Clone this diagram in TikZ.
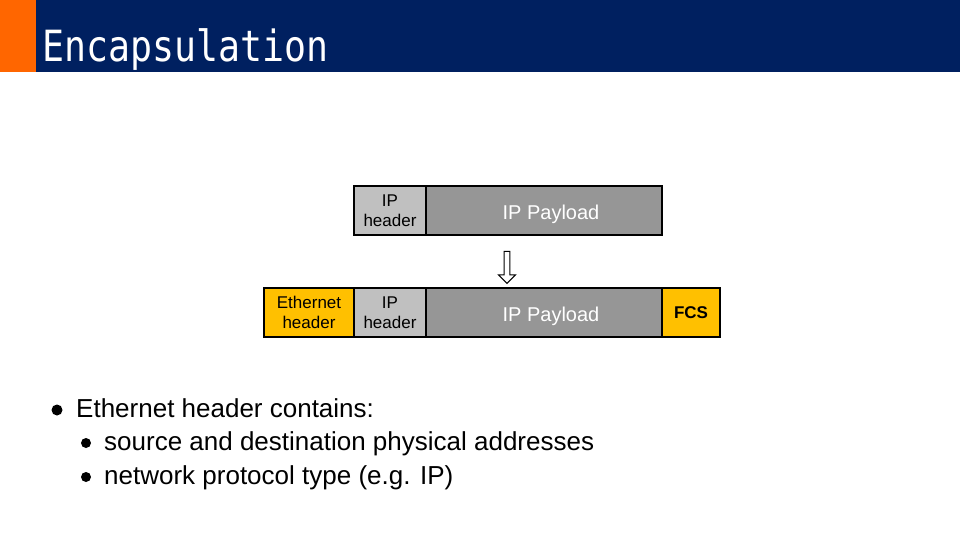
\documentclass[tikz,border=0pt]{standalone}
\usepackage{fontspec}
\setmainfont{Liberation Sans}
\newfontfamily\titlefont{DejaVu Sans Mono}
\usetikzlibrary{shapes.arrows}
\definecolor{barblue}{HTML}{002060}
\definecolor{barorange}{HTML}{FF6600}
\definecolor{hdrgray}{HTML}{C0C0C0}
\definecolor{loadgray}{HTML}{969696}
\definecolor{ethgold}{HTML}{FFC000}
\newcommand{\loadtext}{\hspace*{14pt}\raisebox{-4pt}[14pt][4pt]{IP Payload}}
\tikzset{
  field/.style={draw, line width=1.5pt, inner sep=0pt, minimum height=49pt, align=center},
  iphdr/.style={field, fill=hdrgray, minimum width=72pt, font=\fontsize{17}{20}\selectfont},
  ipload/.style={field, fill=loadgray, minimum width=236pt, text=white, font=\fontsize{20}{22}\selectfont},
  ethfld/.style={field, fill=ethgold, font=\fontsize{17}{20}\selectfont},
  dot/.style={circle, fill=black, inner sep=0pt, minimum size=#1},
  item/.style={anchor=base west, inner sep=0pt, font=\fontsize{26}{28}\selectfont}
}
\begin{document}
\begin{tikzpicture}[x=1pt, y=-1pt]
\useasboundingbox (0,0) rectangle (960,540);
\fill[barblue] (36,0) rectangle (960,72);
\fill[barorange] (0,0) rectangle (36,72);
\node[anchor=base west, inner sep=0pt, text=white, xscale=0.85, transform shape, font=\titlefont\fontsize{43}{46}\selectfont] (title) at (42,62) {Encapsulation};

% IP packet
\node[iphdr] (iph) at (390,210.5) {IP\\header};
\node[ipload] (ipl) at (544,210.5) {\loadtext};

% down arrow
\node[single arrow, draw, fill=white, line width=1pt, rotate=-90, minimum height=32pt, minimum width=17pt, single arrow head extend=5pt, single arrow tip angle=90, inner sep=2pt] (down) at (507,266) {};

% Ethernet frame
\node[ethfld, minimum width=90pt] (ethh) at (309,312.5) {Ethernet\\header};
\node[iphdr] (iph2) at (390,312.5) {IP\\header};
\node[ipload] (ipl2) at (544,312.5) {\loadtext};
\node[ethfld, minimum width=58pt, font=\bfseries\fontsize{17}{20}\selectfont] (fcs) at (691,312.5) {FCS};

% bullets
\node[dot=11pt] (b1) at (57,410) {};
\node[item] (t1) at (76,417) {Ethernet header contains:};
\node[dot=10pt] (b2) at (86,443) {};
\node[item] (t2) at (104,450) {source and destination physical addresses};
\node[dot=10pt] (b3) at (86,477) {};
\node[item] (t3) at (104,484) {network protocol type (e.g. IP)};
\end{tikzpicture}
\end{document}
